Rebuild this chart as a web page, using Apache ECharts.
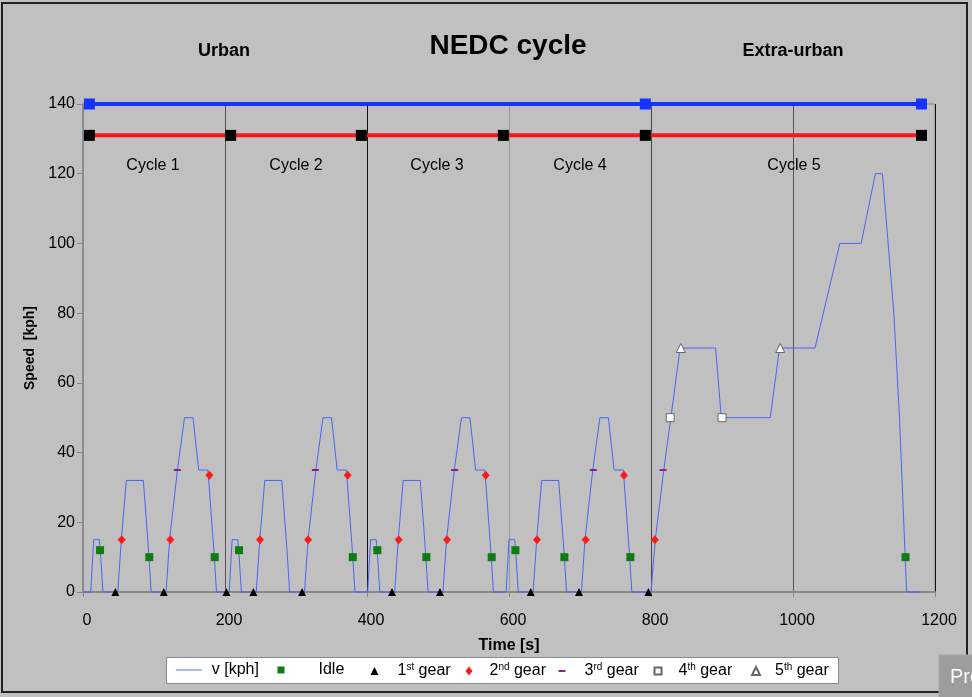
<!DOCTYPE html>
<html>
<head>
<meta charset="utf-8">
<script src="https://cdn.jsdelivr.net/npm/echarts@6/dist/echarts.min.js"></script>
<style>
html,body{margin:0;padding:0;background:#c0c0c0;}
#c{width:972px;height:697px;}
</style>
</head>
<body>
<div id="c"></div>
<script>
// ---------------- data ----------------
const timeS = [
  0,11,15,23,25,28,49,54,56,61,85,93,96,117,122,124,133,135,143,155,163,176,185,188,
  195,206,210,218,220,223,244,249,251,256,280,288,291,312,317,319,328,330,338,350,358,371,380,383,
  390,401,405,413,415,418,439,444,446,451,475,483,486,507,512,514,523,525,533,545,553,566,575,578,
  585,596,600,608,610,613,634,639,641,646,670,678,681,702,707,709,718,720,728,740,748,761,770,773,
  780,800,806,808,818,820,828,830,841,891,899,968,981,1031,1066,1096,1116,1126,1142,1150,1160,1180
];
const speedKph = [
  0,0,15,15,10,0,0,15,15,32,32,10,0,0,15,15,35,35,50,50,35,35,10,0,
  0,0,15,15,10,0,0,15,15,32,32,10,0,0,15,15,35,35,50,50,35,35,10,0,
  0,0,15,15,10,0,0,15,15,32,32,10,0,0,15,15,35,35,50,50,35,35,10,0,
  0,0,15,15,10,0,0,15,15,32,32,10,0,0,15,15,35,35,50,50,35,35,10,0,
  0,0,15,15,35,35,50,50,70,70,50,50,70,70,100,100,120,120,80,50,0,0
];
const idleT  = [24,93.4,185.5,219.8,380,414.6,483.6,575.6,609,678,771,1158.5];
const idleV  = [12,10,10,12,10,12,10,10,12,10,10,10];
const gear1T = [45.6,113.7,202,240,308.5,435.2,502.8,630.6,698.6,796.3];
const gear1V = [0,0,0,0,0,0,0,0,0,0];
const gear2T = [54.5,123,178,249.3,317,372.8,444.6,512.7,567.2,639.4,708,762,805.4];
const gear2V = [15,15,33.5,15,15,33.5,15,15,33.5,15,15,33.5,15];
const gear3T = [132.8,327.3,523.5,718.7,817];
const gear3V = [35,35,35,35,35];
const gear4T = [827,900];
const gear4V = [50,50];
const gear5T = [842,982];
const gear5V = [70,70];
// part bars at the top (Urban / Extra-urban and cycle bar)
const partT  = [9,792,1181];
const partV  = [140,140,140];
const cycT   = [9,208,392,592,792,1181];
const cycV   = [131,131,131,131,131,131];

const seriesNames = ['v [kph]','Idle','1st gear','2nd gear','3rd gear','4th gear','5th gear'];
const cycleLabels = ['Cycle 1','Cycle 2','Cycle 3','Cycle 4','Cycle 5'];
const partLabels = ['Urban','Extra-urban'];
const chartTitle = 'NEDC cycle';
const xName = 'Time [s]';
const yName = 'Speed  [kph]';

// ---------------- helpers ----------------
const FONT = '"Liberation Sans", Arial, Helvetica, sans-serif';
const zip = (a, b) => a.map((v, i) => [v, b[i]]);

const chart = echarts.init(document.getElementById('c'), null, {renderer: 'canvas'});

// legend layout: icon centre, icon box, text padding
const legendCenters = [188, 281, 374.5, 469, 562, 657, 755];
const legendIconW   = [26, 7, 8, 7, 7, 7, 8];
const legendIconH   = [8, 7, 8, 9, 2, 7, 8];
const legendPads    = [5, 29, 14, 12, 14, 12, 10];
const legendFormats = [
  '{n|v [kph]}',
  '{n|Idle}',
  '{n|1}{s|st}{n| gear}',
  '{n|2}{s|nd}{n| gear}',
  '{n|3}{s|rd}{n| gear}',
  '{n|4}{s|th}{n| gear}',
  '{n|5}{s|th}{n| gear}'
];
const legends = seriesNames.map((name, i) => {
  const lg = {
    data: [name],
    left: legendCenters[i] - legendIconW[i] / 2,
    top: 662,
    padding: 0,
    itemWidth: legendIconW[i],
    itemHeight: legendIconH[i],
    selectedMode: false,
    z: 6,
    formatter: () => legendFormats[i],
    textStyle: {
      color: '#000',
      fontFamily: FONT,
      fontSize: 16,
      padding: [0, 0, 0, legendPads[i]],
      rich: {
        n: {fontSize: 16, fontFamily: FONT, color: '#000', lineHeight: 18},
        s: {fontSize: 10, fontFamily: FONT, color: '#000', verticalAlign: 'top'}
      }
    }
  };
  if (i === 0) {
    lg.itemStyle = {color: 'rgba(0,0,0,0)', borderWidth: 0, opacity: 0};
    lg.lineStyle = {color: '#8ea0f5', width: 1.5};
  }
  return lg;
});

const txt = (text, x, y, size, bold) => ({
  type: 'text', x: x, y: y, z: 10, silent: true,
  style: {text: text, fill: '#000', fontFamily: FONT, fontSize: size,
          fontWeight: bold ? 'bold' : 'normal', align: 'center', verticalAlign: 'middle'}
});

const option = {
  backgroundColor: '#c0c0c0',
  animation: false,
  grid: {left: 83, right: 37, top: 104, bottom: 105, show: true,
         borderColor: '#888', borderWidth: 1, backgroundColor: 'transparent'},
  legend: legends,
  xAxis: {
    type: 'value', min: 0, max: 1200, interval: 200,
    name: xName, nameLocation: 'middle', nameGap: 46,
    nameTextStyle: {fontFamily: FONT, fontSize: 16, fontWeight: 'bold', color: '#000'},
    axisLine: {show: true, onZero: false, lineStyle: {color: '#888', width: 2}},
    axisTick: {show: true, length: 5, lineStyle: {color: '#888'}},
    axisLabel: {margin: 21, fontFamily: FONT, fontSize: 16, color: '#000', padding: [0,0,0,8],
                formatter: v => String(v)},
    splitLine: {show: true, lineStyle: {width: 1,
      color: ['#888', '#555', '#111', '#999', '#444', '#555', '#111']}}
  },
  yAxis: {
    type: 'value', min: 0, max: 140, interval: 20,
    name: yName, nameLocation: 'middle', nameGap: 39,
    nameTextStyle: {fontFamily: FONT, fontSize: 14, fontWeight: 'bold', color: '#000'},
    axisLine: {show: true, lineStyle: {color: '#888', width: 1.5}},
    axisTick: {show: true, length: 6, lineStyle: {color: '#888'}},
    axisLabel: {margin: 8, fontFamily: FONT, fontSize: 16, color: '#000', formatter: v => String(v)},
    splitLine: {show: false}
  },
  series: [
    {name: 'v [kph]', type: 'line', data: zip(timeS, speedKph), symbol: 'none', clip: false,
     lineStyle: {color: '#4866f4', width: 1}, itemStyle: {color: '#4866f4'}, z: 3},
    {name: 'Idle', type: 'scatter', data: zip(idleT, idleV), symbol: 'rect', symbolSize: 8,
     itemStyle: {color: '#0d7d0d', opacity: 1}, z: 4},
    {name: '1st gear', type: 'scatter', data: zip(gear1T, gear1V), symbol: 'triangle', symbolSize: 8,
     itemStyle: {color: '#000', opacity: 1}, clip: false, z: 4},
    {name: '2nd gear', type: 'scatter', data: zip(gear2T, gear2V), symbol: 'diamond', symbolSize: [8, 9],
     itemStyle: {color: '#ff1a1a', opacity: 1}, z: 4},
    {name: '3rd gear', type: 'scatter', data: zip(gear3T, gear3V), symbol: 'rect', symbolSize: [7, 2],
     itemStyle: {color: '#8e1a8e', opacity: 1}, z: 4},
    {name: '4th gear', type: 'scatter', data: zip(gear4T, gear4V), symbol: 'rect', symbolSize: 8,
     itemStyle: {color: '#fff', borderColor: '#666', borderWidth: 1, opacity: 1}, z: 4},
    {name: '5th gear', type: 'scatter', data: zip(gear5T, gear5V), symbol: 'triangle', symbolSize: 9,
     itemStyle: {color: '#fff', borderColor: '#666', borderWidth: 1, opacity: 1}, z: 4},
    {name: 'parts', type: 'line', data: zip(partT, partV), symbol: 'rect', symbolSize: 11, clip: false,
     showAllSymbol: true,
     lineStyle: {color: '#1433ff', width: 4}, itemStyle: {color: '#1433ff'}, z: 5},
    {name: 'cycles', type: 'line', data: zip(cycT, cycV), symbol: 'rect', symbolSize: 11, clip: false,
     showAllSymbol: true,
     lineStyle: {color: '#f8151f', width: 4}, itemStyle: {color: '#000'}, z: 5}
  ],
  graphic: [
    {type: 'rect', z: -1, silent: true,
     shape: {x: 2, y: 3, width: 965, height: 689},
     style: {fill: 'none', stroke: '#222', lineWidth: 2}},
    {type: 'rect', z: 1, silent: true,
     shape: {x: 166.5, y: 657.5, width: 672, height: 26},
     style: {fill: '#fff', stroke: '#8a8a8a', lineWidth: 1}},
    txt(chartTitle, 508, 46, 28, true),
    txt(partLabels[0], 224, 51, 18, true),
    txt(partLabels[1], 793, 51, 18, true),
    txt(cycleLabels[0], 153, 166, 16, false),
    txt(cycleLabels[1], 296, 166, 16, false),
    txt(cycleLabels[2], 437, 166, 16, false),
    txt(cycleLabels[3], 580, 166, 16, false),
    txt(cycleLabels[4], 794, 166, 16, false),
    {type: 'rect', z: 50, silent: true,
     shape: {x: 939, y: 655, width: 40, height: 45},
     style: {fill: '#9d9d9d', stroke: '#a8a8a8', lineWidth: 1}},
    {type: 'text', z: 51, x: 950, y: 677, silent: true,
     style: {text: 'Pro', fill: '#fff', fontFamily: FONT, fontSize: 20, align: 'left', verticalAlign: 'middle'}}
  ]
};
chart.setOption(option);
</script>
</body>
</html>
